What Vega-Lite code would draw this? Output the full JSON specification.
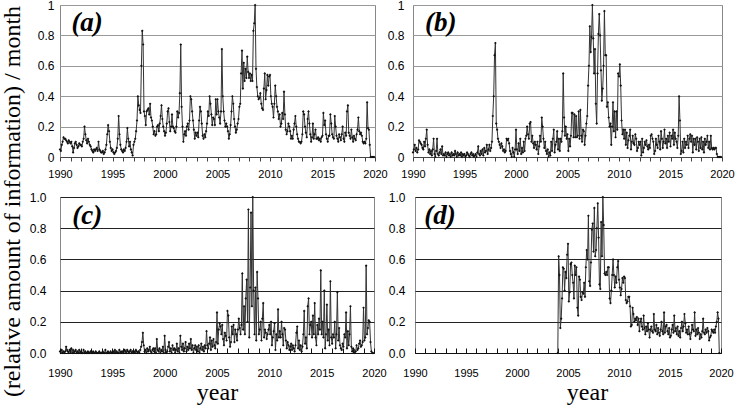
{
  "$schema": "https://vega.github.io/schema/vega-lite/v6.json",
  "padding": {"left": 0, "top": -2, "right": 0, "bottom": 0},
  "background": "#ffffff",
  "config": {
    "view": {"stroke": "#888888", "strokeWidth": 1},
    "axis": {"labelFont": "Liberation Sans", "labelColor": "#000000", "labelOverlap": false, "labelFlush": false}
  },
  "title": {
    "text": "(relative amount of information) / month",
    "orient": "left",
    "anchor": "middle",
    "font": "Liberation Serif",
    "fontSize": 24,
    "fontWeight": "normal",
    "color": "#000000",
    "offset": 4
  },
  "datasets": {
    "panelLetters": [{"panel": "a", "lab": "(a)"}, {"panel": "b", "lab": "(b)"}, {"panel": "c", "lab": "(c)"}, {"panel": "d", "lab": "(d)"}]
  },
  "data": {
    "values": [
      {"m":0,"a":0.05,"b":0.03,"c":0.01},{"m":1,"a":0.04,"b":0.05,"c":0},{"m":2,"a":0.08,"b":0.08,"c":0.02},{"m":3,"a":0.1,"b":0.04,"c":0},{"m":4,"a":0.13,"b":0.06,"c":0.01},{"m":5,"a":0.12,"b":0.03,"c":0},{"m":6,"a":0.12,"b":0.05,"c":0.01},{"m":7,"a":0.11,"b":0.11,"c":0.04},{"m":8,"a":0.1,"b":0.1,"c":0.02},{"m":9,"a":0.09,"b":0.09,"c":0.01},{"m":10,"a":0.11,"b":0.08,"c":0},{"m":11,"a":0.1,"b":0.06,"c":0.02},
      {"m":12,"a":0.09,"b":0.05,"c":0.01},{"m":13,"a":0.1,"b":0.1,"c":0.03},{"m":14,"a":0.07,"b":0.07,"c":0},{"m":15,"a":0.03,"b":0.12,"c":0.02},{"m":16,"a":0.06,"b":0.18,"c":0},{"m":17,"a":0.09,"b":0.08,"c":0.01},{"m":18,"a":0.1,"b":0.03,"c":0.02},{"m":19,"a":0.08,"b":0.05,"c":0},{"m":20,"a":0.06,"b":0.02,"c":0.01},{"m":21,"a":0.07,"b":0.04,"c":0},{"m":22,"a":0.09,"b":0.01,"c":0.02},{"m":23,"a":0.08,"b":0.05,"c":0},
      {"m":24,"a":0.08,"b":0.12,"c":0.01},{"m":25,"a":0.07,"b":0.02,"c":0},{"m":26,"a":0.1,"b":0,"c":0},{"m":27,"a":0.12,"b":0.04,"c":0.02},{"m":28,"a":0.2,"b":0.12,"c":0},{"m":29,"a":0.15,"b":0.02,"c":0.01},{"m":30,"a":0.11,"b":0.01,"c":0},{"m":31,"a":0.09,"b":0.03,"c":0},{"m":32,"a":0.12,"b":0.05,"c":0.01},{"m":33,"a":0.1,"b":0.02,"c":0},{"m":34,"a":0.08,"b":0.07,"c":0},{"m":35,"a":0.07,"b":0.01,"c":0.01},
      {"m":36,"a":0.05,"b":0.02,"c":0},{"m":37,"a":0.04,"b":0.01,"c":0},{"m":38,"a":0.03,"b":0.03,"c":0.01},{"m":39,"a":0.05,"b":0,"c":0},{"m":40,"a":0.04,"b":0.02,"c":0},{"m":41,"a":0.05,"b":0.03,"c":0.01},{"m":42,"a":0.06,"b":0.01,"c":0},{"m":43,"a":0.04,"b":0.02,"c":0},{"m":44,"a":0.1,"b":0,"c":0},{"m":45,"a":0.05,"b":0.03,"c":0.01},{"m":46,"a":0.04,"b":0.01,"c":0},{"m":47,"a":0.03,"b":0.02,"c":0},
      {"m":48,"a":0.03,"b":0.01,"c":0},{"m":49,"a":0.04,"b":0.04,"c":0.01},{"m":50,"a":0.02,"b":0.02,"c":0},{"m":51,"a":0.03,"b":0,"c":0},{"m":52,"a":0.05,"b":0.03,"c":0.02},{"m":53,"a":0.08,"b":0.01,"c":0},{"m":54,"a":0.15,"b":0.02,"c":0},{"m":55,"a":0.21,"b":0.01,"c":0.01},{"m":56,"a":0.17,"b":0.03,"c":0},{"m":57,"a":0.1,"b":0,"c":0},{"m":58,"a":0.06,"b":0.02,"c":0.01},{"m":59,"a":0.04,"b":0.01,"c":0},
      {"m":60,"a":0.05,"b":0.02,"c":0},{"m":61,"a":0.03,"b":0,"c":0.01},{"m":62,"a":0.02,"b":0.01,"c":0},{"m":63,"a":0.03,"b":0.03,"c":0.02},{"m":64,"a":0.04,"b":0.02,"c":0},{"m":65,"a":0.06,"b":0.01,"c":0.01},{"m":66,"a":0.12,"b":0,"c":0},{"m":67,"a":0.27,"b":0.02,"c":0},{"m":68,"a":0.15,"b":0.03,"c":0.02},{"m":69,"a":0.08,"b":0.01,"c":0},{"m":70,"a":0.05,"b":0.02,"c":0.01},{"m":71,"a":0.04,"b":0,"c":0},
      {"m":72,"a":0.03,"b":0.01,"c":0.01},{"m":73,"a":0.05,"b":0.02,"c":0},{"m":74,"a":0.04,"b":0,"c":0.02},{"m":75,"a":0.06,"b":0.03,"c":0.01},{"m":76,"a":0.1,"b":0.07,"c":0},{"m":77,"a":0.19,"b":0.02,"c":0.02},{"m":78,"a":0.12,"b":0.01,"c":0.01},{"m":79,"a":0.07,"b":0.04,"c":0},{"m":80,"a":0.1,"b":0.02,"c":0.01},{"m":81,"a":0.05,"b":0.05,"c":0.02},{"m":82,"a":0.03,"b":0.01,"c":0},{"m":83,"a":0.01,"b":0.06,"c":0.01},
      {"m":84,"a":0.08,"b":0.03,"c":0},{"m":85,"a":0.1,"b":0.04,"c":0.01},{"m":86,"a":0.12,"b":0.08,"c":0},{"m":87,"a":0.17,"b":0.02,"c":0.02},{"m":88,"a":0.24,"b":0.05,"c":0.01},{"m":89,"a":0.4,"b":0.08,"c":0},{"m":90,"a":0.34,"b":0.04,"c":0.01},{"m":91,"a":0.31,"b":0.06,"c":0},{"m":92,"a":0.29,"b":0.1,"c":0.02},{"m":93,"a":0.6,"b":0.27,"c":0.04},{"m":94,"a":0.83,"b":0.4,"c":0.07},{"m":95,"a":0.74,"b":0.67,"c":0.13},
      {"m":96,"a":0.3,"b":0.75,"c":0.05},{"m":97,"a":0.27,"b":0.22,"c":0.01},{"m":98,"a":0.21,"b":0.18,"c":0.02},{"m":99,"a":0.3,"b":0.12,"c":0},{"m":100,"a":0.31,"b":0.1,"c":0.03},{"m":101,"a":0.32,"b":0.08,"c":0.01},{"m":102,"a":0.28,"b":0.06,"c":0.02},{"m":103,"a":0.35,"b":0.09,"c":0.04},{"m":104,"a":0.26,"b":0.07,"c":0.01},{"m":105,"a":0.24,"b":0.04,"c":0},{"m":106,"a":0.2,"b":0.05,"c":0.02},{"m":107,"a":0.15,"b":0.03,"c":0.03},
      {"m":108,"a":0.17,"b":0.04,"c":0.01},{"m":109,"a":0.14,"b":0.12,"c":0.03},{"m":110,"a":0.15,"b":0.11,"c":0},{"m":111,"a":0.2,"b":0.12,"c":0.09},{"m":112,"a":0.21,"b":0.09,"c":0.02},{"m":113,"a":0.17,"b":0.04,"c":0.01},{"m":114,"a":0.22,"b":0.02,"c":0.03},{"m":115,"a":0.27,"b":0,"c":0},{"m":116,"a":0.34,"b":0.06,"c":0.02},{"m":117,"a":0.25,"b":0.03,"c":0.01},{"m":118,"a":0.2,"b":0,"c":0.04},{"m":119,"a":0.17,"b":0.05,"c":0},
      {"m":120,"a":0.14,"b":0.18,"c":0.11},{"m":121,"a":0.16,"b":0.05,"c":0.02},{"m":122,"a":0.22,"b":0.02,"c":0},{"m":123,"a":0.3,"b":0.09,"c":0.01},{"m":124,"a":0.32,"b":0.04,"c":0.04},{"m":125,"a":0.23,"b":0.12,"c":0.07},{"m":126,"a":0.17,"b":0.02,"c":0.01},{"m":127,"a":0.2,"b":0.06,"c":0.03},{"m":128,"a":0.28,"b":0.03,"c":0},{"m":129,"a":0.2,"b":0.1,"c":0.05},{"m":130,"a":0.19,"b":0.04,"c":0.02},{"m":131,"a":0.17,"b":0.12,"c":0.03},
      {"m":132,"a":0.16,"b":0.14,"c":0},{"m":133,"a":0.2,"b":0.2,"c":0.02},{"m":134,"a":0.3,"b":0.15,"c":0.06},{"m":135,"a":0.26,"b":0.12,"c":0.01},{"m":136,"a":0.29,"b":0.22,"c":0.03},{"m":137,"a":0.42,"b":0.23,"c":0},{"m":138,"a":0.74,"b":0.1,"c":0.11},{"m":139,"a":0.33,"b":0.14,"c":0.04},{"m":140,"a":0.2,"b":0.09,"c":0.02},{"m":141,"a":0.1,"b":0.06,"c":0.06},{"m":142,"a":0.15,"b":0.1,"c":0.01},{"m":143,"a":0.17,"b":0.08,"c":0.03},
      {"m":144,"a":0.14,"b":0.05,"c":0.07},{"m":145,"a":0.2,"b":0.1,"c":0.01},{"m":146,"a":0.22,"b":0.02,"c":0.04},{"m":147,"a":0.18,"b":0.07,"c":0.02},{"m":148,"a":0.24,"b":0.14,"c":0.06},{"m":149,"a":0.4,"b":0.1,"c":0.03},{"m":150,"a":0.38,"b":0.26,"c":0.09},{"m":151,"a":0.3,"b":0.2,"c":0.02},{"m":152,"a":0.24,"b":0.12,"c":0.05},{"m":153,"a":0.18,"b":0.06,"c":0},{"m":154,"a":0.12,"b":0.1,"c":0.03},{"m":155,"a":0.16,"b":0.04,"c":0.05},
      {"m":156,"a":0.14,"b":0.02,"c":0.02},{"m":157,"a":0.16,"b":0.05,"c":0.04},{"m":158,"a":0.13,"b":0,"c":0.01},{"m":159,"a":0.24,"b":0.03,"c":0.05},{"m":160,"a":0.33,"b":0.01,"c":0},{"m":161,"a":0.3,"b":0.1,"c":0.03},{"m":162,"a":0.22,"b":0.04,"c":0.06},{"m":163,"a":0.14,"b":0.12,"c":0.02},{"m":164,"a":0.12,"b":0.18,"c":0.04},{"m":165,"a":0.15,"b":0.03,"c":0.01},{"m":166,"a":0.13,"b":0.08,"c":0.05},{"m":167,"a":0.17,"b":0.1,"c":0.03},
      {"m":168,"a":0.22,"b":0.17,"c":0.14,"d":0},{"m":169,"a":0.3,"b":0.05,"c":0.05,"d":0.62},{"m":170,"a":0.27,"b":0.12,"c":0.03,"d":0.5},{"m":171,"a":0.4,"b":0.04,"c":0.06,"d":0.16},{"m":172,"a":0.35,"b":0.12,"c":0.1,"d":0.22},{"m":173,"a":0.28,"b":0.1,"c":0.02,"d":0.35},{"m":174,"a":0.21,"b":0.17,"c":0.08,"d":0.55},{"m":175,"a":0.26,"b":0.55,"c":0.04,"d":0.54},{"m":176,"a":0.25,"b":0.26,"c":0.09,"d":0.4},{"m":177,"a":0.21,"b":0.14,"c":0.05,"d":0.52},{"m":178,"a":0.38,"b":0.2,"c":0.03,"d":0.48},{"m":179,"a":0.28,"b":0.12,"c":0.07,"d":0.63},
      {"m":180,"a":0.38,"b":0.15,"c":0.26,"d":0.7},{"m":181,"a":0.3,"b":0.04,"c":0.06,"d":0.33},{"m":182,"a":0.26,"b":0.12,"c":0.15,"d":0.39},{"m":183,"a":0.22,"b":0.07,"c":0.19,"d":0.57},{"m":184,"a":0.3,"b":0.14,"c":0.17,"d":0.58},{"m":185,"a":0.71,"b":0.29,"c":0.12,"d":0.5},{"m":186,"a":0.4,"b":0.29,"c":0.18,"d":0.45},{"m":187,"a":0.3,"b":0.13,"c":0.09,"d":0.35},{"m":188,"a":0.24,"b":0.28,"c":0.05,"d":0.56},{"m":189,"a":0.2,"b":0.13,"c":0.13,"d":0.5},{"m":190,"a":0.22,"b":0.27,"c":0.11,"d":0.55},{"m":191,"a":0.2,"b":0.13,"c":0.08,"d":0.29},
      {"m":192,"a":0.17,"b":0.14,"c":0.27,"d":0.24},{"m":193,"a":0.12,"b":0.3,"c":0.24,"d":0.49},{"m":194,"a":0.15,"b":0.12,"c":0.1,"d":0.47},{"m":195,"a":0.21,"b":0.31,"c":0.04,"d":0.36},{"m":196,"a":0.3,"b":0.14,"c":0.07,"d":0.34},{"m":197,"a":0.4,"b":0.1,"c":0.17,"d":0.39},{"m":198,"a":0.35,"b":0.18,"c":0.12,"d":0.38},{"m":199,"a":0.25,"b":0.17,"c":0.18,"d":0.45},{"m":200,"a":0.2,"b":0.08,"c":0.07,"d":0.36},{"m":201,"a":0.16,"b":0.14,"c":0.15,"d":0.55},{"m":202,"a":0.18,"b":0.22,"c":0.12,"d":0.66},{"m":203,"a":0.22,"b":0.27,"c":0.08,"d":0.6},
      {"m":204,"a":0.25,"b":0.47,"c":0.15,"d":0.88},{"m":205,"a":0.33,"b":0.6,"c":0.22,"d":0.46},{"m":206,"a":0.35,"b":0.86,"c":0.16,"d":0.43},{"m":207,"a":0.55,"b":0.69,"c":0.12,"d":0.58},{"m":208,"a":0.7,"b":0.79,"c":0.18,"d":0.79},{"m":209,"a":0.45,"b":1,"c":0.51,"d":0.83},{"m":210,"a":0.62,"b":0.78,"c":0.15,"d":0.65},{"m":211,"a":0.5,"b":0.55,"c":0.3,"d":0.93},{"m":212,"a":0.58,"b":0.71,"c":0.12,"d":0.62},{"m":213,"a":0.52,"b":0.35,"c":0.35,"d":0.66},{"m":214,"a":0.66,"b":0.22,"c":0.47,"d":0.8},{"m":215,"a":0.56,"b":0.55,"c":0.2,"d":0.96},
      {"m":216,"a":0.52,"b":0.81,"c":0.92,"d":0.74},{"m":217,"a":0.55,"b":0.94,"c":0.1,"d":0.44},{"m":218,"a":0.5,"b":0.8,"c":0.42,"d":0.41},{"m":219,"a":0.54,"b":0.57,"c":0.9,"d":0.84},{"m":220,"a":0.5,"b":0.37,"c":0.3,"d":0.62},{"m":221,"a":0.83,"b":0.45,"c":1,"d":1},{"m":222,"a":0.88,"b":0.6,"c":0.4,"d":0.82},{"m":223,"a":1,"b":0.96,"c":0.12,"d":0.51},{"m":224,"a":0.58,"b":0.67,"c":0.42,"d":0.5},{"m":225,"a":0.46,"b":0.67,"c":0.08,"d":0.52},{"m":226,"a":0.4,"b":0.33,"c":0.52,"d":0.5},{"m":227,"a":0.38,"b":0.36,"c":0.35,"d":0.55},
      {"m":228,"a":0.39,"b":0.26,"c":0.12,"d":0.55},{"m":229,"a":0.42,"b":0.2,"c":0.15,"d":0.35},{"m":230,"a":0.35,"b":0.22,"c":0.2,"d":0.32},{"m":231,"a":0.32,"b":0.08,"c":0.08,"d":0.4},{"m":232,"a":0.31,"b":0.2,"c":0.22,"d":0.5},{"m":233,"a":0.45,"b":0.36,"c":0.32,"d":0.6},{"m":234,"a":0.55,"b":0.17,"c":0.1,"d":0.5},{"m":235,"a":0.38,"b":0.3,"c":0.15,"d":0.42},{"m":236,"a":0.44,"b":0.13,"c":0.13,"d":0.49},{"m":237,"a":0.54,"b":0.3,"c":0.09,"d":0.45},{"m":238,"a":0.47,"b":0.18,"c":0.12,"d":0.55},{"m":239,"a":0.53,"b":0.55,"c":0.15,"d":0.59},
      {"m":240,"a":0.54,"b":0.53,"c":0.18,"d":0.47},{"m":241,"a":0.4,"b":0.61,"c":0.12,"d":0.42},{"m":242,"a":0.35,"b":0.47,"c":0.2,"d":0.37},{"m":243,"a":0.33,"b":0.24,"c":0.05,"d":0.41},{"m":244,"a":0.26,"b":0.15,"c":0.1,"d":0.48},{"m":245,"a":0.35,"b":0.18,"c":0.14,"d":0.45},{"m":246,"a":0.47,"b":0.12,"c":0.19,"d":0.49},{"m":247,"a":0.4,"b":0.18,"c":0.02,"d":0.48},{"m":248,"a":0.33,"b":0.08,"c":0.12,"d":0.34},{"m":249,"a":0.3,"b":0.16,"c":0.08,"d":0.32},{"m":250,"a":0.25,"b":0.06,"c":0.28,"d":0.33},{"m":251,"a":0.28,"b":0.11,"c":0.1,"d":0.36},
      {"m":252,"a":0.2,"b":0.14,"c":0.14,"d":0.36},{"m":253,"a":0.22,"b":0.18,"c":0.1,"d":0.3},{"m":254,"a":0.29,"b":0.05,"c":0.2,"d":0.17},{"m":255,"a":0.25,"b":0.1,"c":0.12,"d":0.18},{"m":256,"a":0.43,"b":0.14,"c":0.05,"d":0.29},{"m":257,"a":0.28,"b":0.09,"c":0.16,"d":0.25},{"m":258,"a":0.18,"b":0.08,"c":0.15,"d":0.2},{"m":259,"a":0.15,"b":0.15,"c":0.08,"d":0.22},{"m":260,"a":0.17,"b":0.12,"c":0.03,"d":0.21},{"m":261,"a":0.22,"b":0.04,"c":0.07,"d":0.23},{"m":262,"a":0.2,"b":0.06,"c":0.05,"d":0.18},{"m":263,"a":0.17,"b":0.1,"c":0.02,"d":0.22},
      {"m":264,"a":0.12,"b":0.08,"c":0.04,"d":0.14},{"m":265,"a":0.14,"b":0.1,"c":0.06,"d":0.2},{"m":266,"a":0.12,"b":0.01,"c":0.02,"d":0.22},{"m":267,"a":0.18,"b":0.12,"c":0.05,"d":0.17},{"m":268,"a":0.22,"b":0.03,"c":0.03,"d":0.15},{"m":269,"a":0.27,"b":0.06,"c":0.01,"d":0.24},{"m":270,"a":0.2,"b":0.1,"c":0.05,"d":0.16},{"m":271,"a":0.15,"b":0.08,"c":0.13,"d":0.12},{"m":272,"a":0.12,"b":0.11,"c":0.17,"d":0.17},{"m":273,"a":0.1,"b":0.07,"c":0.03,"d":0.14},{"m":274,"a":0.1,"b":0.05,"c":0.08,"d":0.19},{"m":275,"a":0.09,"b":0.08,"c":0.02,"d":0.15},
      {"m":276,"a":0.1,"b":0.06,"c":0.05,"d":0.1},{"m":277,"a":0.15,"b":0.14,"c":0.01,"d":0.15},{"m":278,"a":0.3,"b":0.15,"c":0.04,"d":0.17},{"m":279,"a":0.28,"b":0.12,"c":0.12,"d":0.14},{"m":280,"a":0.2,"b":0.1,"c":0.27,"d":0.13},{"m":281,"a":0.16,"b":0.02,"c":0.06,"d":0.25},{"m":282,"a":0.13,"b":0.04,"c":0.1,"d":0.15},{"m":283,"a":0.25,"b":0.12,"c":0.03,"d":0.14},{"m":284,"a":0.3,"b":0.08,"c":0.3,"d":0.18},{"m":285,"a":0.22,"b":0.06,"c":0.35,"d":0.12},{"m":286,"a":0.15,"b":0.14,"c":0.12,"d":0.16},{"m":287,"a":0.1,"b":0.1,"c":0.18,"d":0.13},
      {"m":288,"a":0.13,"b":0.05,"c":0.2,"d":0.11},{"m":289,"a":0.22,"b":0.17,"c":0.1,"d":0.15},{"m":290,"a":0.12,"b":0.12,"c":0.24,"d":0.2},{"m":291,"a":0.15,"b":0.06,"c":0.12,"d":0.14},{"m":292,"a":0.18,"b":0.1,"c":0.32,"d":0.12},{"m":293,"a":0.12,"b":0.18,"c":0.1,"d":0.26},{"m":294,"a":0.12,"b":0.09,"c":0.05,"d":0.13},{"m":295,"a":0.13,"b":0.12,"c":0.18,"d":0.17},{"m":296,"a":0.11,"b":0.06,"c":0.12,"d":0.18},{"m":297,"a":0.12,"b":0.14,"c":0.22,"d":0.14},{"m":298,"a":0.1,"b":0.1,"c":0.15,"d":0.12},{"m":299,"a":0.13,"b":0.16,"c":0.53,"d":0.16},
      {"m":300,"a":0.14,"b":0.07,"c":0.12,"d":0.1},{"m":301,"a":0.29,"b":0.14,"c":0.2,"d":0.11},{"m":302,"a":0.21,"b":0.12,"c":0.1,"d":0.15},{"m":303,"a":0.24,"b":0.18,"c":0.4,"d":0.18},{"m":304,"a":0.15,"b":0.08,"c":0.03,"d":0.13},{"m":305,"a":0.12,"b":0.16,"c":0.12,"d":0.24},{"m":306,"a":0.1,"b":0.12,"c":0.31,"d":0.14},{"m":307,"a":0.14,"b":0.1,"c":0.08,"d":0.16},{"m":308,"a":0.14,"b":0.06,"c":0.15,"d":0.12},{"m":309,"a":0.28,"b":0.14,"c":0.05,"d":0.17},{"m":310,"a":0.22,"b":0.4,"c":0.46,"d":0.11},{"m":311,"a":0.15,"b":0.24,"c":0.1,"d":0.14},
      {"m":312,"a":0.13,"b":0.02,"c":0.06,"d":0.1},{"m":313,"a":0.12,"b":0.04,"c":0.12,"d":0.16},{"m":314,"a":0.27,"b":0.1,"c":0.1,"d":0.2},{"m":315,"a":0.2,"b":0.03,"c":0.2,"d":0.14},{"m":316,"a":0.14,"b":0.12,"c":0.03,"d":0.17},{"m":317,"a":0.12,"b":0.06,"c":0.12,"d":0.25},{"m":318,"a":0.1,"b":0.1,"c":0.39,"d":0.19},{"m":319,"a":0.15,"b":0.08,"c":0.08,"d":0.13},{"m":320,"a":0.13,"b":0.14,"c":0.16,"d":0.15},{"m":321,"a":0.11,"b":0.06,"c":0.05,"d":0.12},{"m":322,"a":0.15,"b":0.12,"c":0.03,"d":0.17},{"m":323,"a":0.2,"b":0.15,"c":0.02,"d":0.12},
      {"m":324,"a":0.12,"b":0.1,"c":0.06,"d":0.09},{"m":325,"a":0.1,"b":0.14,"c":0.04,"d":0.13},{"m":326,"a":0.16,"b":0.03,"c":0.12,"d":0.18},{"m":327,"a":0.14,"b":0.12,"c":0.1,"d":0.15},{"m":328,"a":0.3,"b":0.08,"c":0.26,"d":0.14},{"m":329,"a":0.34,"b":0.12,"c":0.03,"d":0.26},{"m":330,"a":0.16,"b":0.05,"c":0.14,"d":0.11},{"m":331,"a":0.14,"b":0.13,"c":0.05,"d":0.15},{"m":332,"a":0.12,"b":0.1,"c":0.12,"d":0.12},{"m":333,"a":0.18,"b":0.04,"c":0.3,"d":0.16},{"m":334,"a":0.13,"b":0.12,"c":0.04,"d":0.13},{"m":335,"a":0.1,"b":0.06,"c":0.01,"d":0.09},
      {"m":336,"a":0.14,"b":0.13,"c":0.03,"d":0.12},{"m":337,"a":0.12,"b":0.05,"c":0.02,"d":0.1},{"m":338,"a":0.11,"b":0.1,"c":0,"d":0.14},{"m":339,"a":0.15,"b":0.03,"c":0.01,"d":0.22},{"m":340,"a":0.18,"b":0.12,"c":0.05,"d":0.13},{"m":341,"a":0.26,"b":0.08,"c":0.02,"d":0.12},{"m":342,"a":0.17,"b":0.1,"c":0.03,"d":0.15},{"m":343,"a":0.15,"b":0.14,"c":0.06,"d":0.13},{"m":344,"a":0.16,"b":0.06,"c":0.08,"d":0.16},{"m":345,"a":0.14,"b":0.1,"c":0.04,"d":0.14},{"m":346,"a":0.1,"b":0.05,"c":0.05,"d":0.08},{"m":347,"a":0.09,"b":0.14,"c":0.07,"d":0.1},
      {"m":348,"a":0.1,"b":0.06,"c":0.29,"d":0.11},{"m":349,"a":0.09,"b":0.05,"c":0.08,"d":0.15},{"m":350,"a":0.12,"b":0.06,"c":0.1,"d":0.14},{"m":351,"a":0.36,"b":0.05,"c":0.56,"d":0.13},{"m":352,"a":0.19,"b":0.06,"c":0.12,"d":0.15},{"m":353,"a":0.18,"b":0.06,"c":0.16,"d":0.13},{"m":354,"a":0.08,"b":0.02,"c":0.21,"d":0.17},{"m":355,"a":0,"b":0,"c":0.2,"d":0.2},{"m":356,"a":0,"b":0,"c":0.07,"d":0.26},{"m":357,"a":0,"b":0,"c":0.01,"d":0.22},{"m":358,"a":0,"b":0,"c":0,"d":0},{"m":359,"a":0,"b":0,"c":0}
    ]
  },
  "spacing": 10,
  "vconcat": [
    {
      "bounds": "flush",
      "spacing": 38,
      "hconcat": [
        {
          "width": 315,
          "height": 152,
          "layer": [
            {"mark": {"type": "line", "color": "#333333", "strokeWidth": 1},
              "encoding": {
                "x": {"field": "m", "type": "quantitative", "scale": {"domain": [0, 360], "nice": false, "zero": false},
                  "axis": {"title": null, "grid": false, "values": [0,12,24,36,48,60,72,84,96,108,120,132,144,156,168,180,192,204,216,228,240,252,264,276,288,300,312,324,336,348,360],
                    "labelExpr": "datum.value % 60 === 0 ? '' + (1990 + datum.value / 12) : ''", "tickSize": 4, "tickColor": "#444444", "domainColor": "#444444", "labelPadding": 7, "labelFontSize": 11}},
                "y": {"field": "a", "type": "quantitative", "scale": {"domain": [0, 1], "nice": false},
                  "axis": {"title": null, "values": [0,0.2,0.4,0.6,0.8,1], "format": "~g", "grid": true, "gridColor": "#999999", "ticks": false, "domain": false, "labelPadding": 6, "labelFontSize": 12}}}},
            {"mark": {"type": "point", "shape": "diamond", "filled": true, "size": 7, "color": "#111111", "opacity": 1},
              "encoding": {
                "x": {"field": "m", "type": "quantitative", "scale": {"domain": [0, 360], "nice": false, "zero": false},
                  "axis": {"title": null, "grid": false, "values": [0,12,24,36,48,60,72,84,96,108,120,132,144,156,168,180,192,204,216,228,240,252,264,276,288,300,312,324,336,348,360],
                    "labelExpr": "datum.value % 60 === 0 ? '' + (1990 + datum.value / 12) : ''", "tickSize": 4, "tickColor": "#444444", "domainColor": "#444444", "labelPadding": 7, "labelFontSize": 11}},
                "y": {"field": "a", "type": "quantitative", "scale": {"domain": [0, 1], "nice": false},
                  "axis": {"title": null, "values": [0,0.2,0.4,0.6,0.8,1], "format": "~g", "grid": true, "gridColor": "#999999", "ticks": false, "domain": false, "labelPadding": 6, "labelFontSize": 12}}}},
            {"data": {"name": "panelLetters"},
              "transform": [{"filter": "datum.panel === 'a'"}],
              "mark": {"type": "text", "align": "left", "baseline": "alphabetic", "font": "Liberation Serif", "fontSize": 27, "fontStyle": "italic", "fontWeight": "bold", "color": "#000000"},
              "encoding": {
                "x": {"datum": 13, "type": "quantitative", "scale": {"domain": [0, 360], "nice": false, "zero": false},
                  "axis": {"title": null, "grid": false, "values": [0,12,24,36,48,60,72,84,96,108,120,132,144,156,168,180,192,204,216,228,240,252,264,276,288,300,312,324,336,348,360],
                    "labelExpr": "datum.value % 60 === 0 ? '' + (1990 + datum.value / 12) : ''", "tickSize": 4, "tickColor": "#444444", "domainColor": "#444444", "labelPadding": 7, "labelFontSize": 11}},
                "y": {"datum": 0.83, "type": "quantitative", "scale": {"domain": [0, 1], "nice": false},
                  "axis": {"title": null, "values": [0,0.2,0.4,0.6,0.8,1], "format": "~g", "grid": true, "gridColor": "#999999", "ticks": false, "domain": false, "labelPadding": 6, "labelFontSize": 12}},
                "text": {"field": "lab", "type": "nominal"}}}
          ]
        },
        {
          "width": 309,
          "height": 152,
          "layer": [
            {"mark": {"type": "line", "color": "#333333", "strokeWidth": 1},
              "encoding": {
                "x": {"field": "m", "type": "quantitative", "scale": {"domain": [0, 360], "nice": false, "zero": false},
                  "axis": {"title": null, "grid": false, "values": [0,12,24,36,48,60,72,84,96,108,120,132,144,156,168,180,192,204,216,228,240,252,264,276,288,300,312,324,336,348,360],
                    "labelExpr": "datum.value % 60 === 0 ? '' + (1990 + datum.value / 12) : ''", "tickSize": 4, "tickColor": "#444444", "domainColor": "#444444", "labelPadding": 7, "labelFontSize": 11}},
                "y": {"field": "b", "type": "quantitative", "scale": {"domain": [0, 1], "nice": false},
                  "axis": {"title": null, "values": [0,0.2,0.4,0.6,0.8,1], "format": "~g", "grid": true, "gridColor": "#999999", "ticks": false, "domain": false, "labelPadding": 9, "labelFontSize": 12}}}},
            {"mark": {"type": "point", "shape": "diamond", "filled": true, "size": 7, "color": "#111111", "opacity": 1},
              "encoding": {
                "x": {"field": "m", "type": "quantitative", "scale": {"domain": [0, 360], "nice": false, "zero": false},
                  "axis": {"title": null, "grid": false, "values": [0,12,24,36,48,60,72,84,96,108,120,132,144,156,168,180,192,204,216,228,240,252,264,276,288,300,312,324,336,348,360],
                    "labelExpr": "datum.value % 60 === 0 ? '' + (1990 + datum.value / 12) : ''", "tickSize": 4, "tickColor": "#444444", "domainColor": "#444444", "labelPadding": 7, "labelFontSize": 11}},
                "y": {"field": "b", "type": "quantitative", "scale": {"domain": [0, 1], "nice": false},
                  "axis": {"title": null, "values": [0,0.2,0.4,0.6,0.8,1], "format": "~g", "grid": true, "gridColor": "#999999", "ticks": false, "domain": false, "labelPadding": 9, "labelFontSize": 12}}}},
            {"data": {"name": "panelLetters"},
              "transform": [{"filter": "datum.panel === 'b'"}],
              "mark": {"type": "text", "align": "left", "baseline": "alphabetic", "font": "Liberation Serif", "fontSize": 27, "fontStyle": "italic", "fontWeight": "bold", "color": "#000000"},
              "encoding": {
                "x": {"datum": 14, "type": "quantitative", "scale": {"domain": [0, 360], "nice": false, "zero": false},
                  "axis": {"title": null, "grid": false, "values": [0,12,24,36,48,60,72,84,96,108,120,132,144,156,168,180,192,204,216,228,240,252,264,276,288,300,312,324,336,348,360],
                    "labelExpr": "datum.value % 60 === 0 ? '' + (1990 + datum.value / 12) : ''", "tickSize": 4, "tickColor": "#444444", "domainColor": "#444444", "labelPadding": 7, "labelFontSize": 11}},
                "y": {"datum": 0.83, "type": "quantitative", "scale": {"domain": [0, 1], "nice": false},
                  "axis": {"title": null, "values": [0,0.2,0.4,0.6,0.8,1], "format": "~g", "grid": true, "gridColor": "#999999", "ticks": false, "domain": false, "labelPadding": 9, "labelFontSize": 12}},
                "text": {"field": "lab", "type": "nominal"}}}
          ]
        }
      ]
    },
    {
      "bounds": "flush",
      "spacing": 41,
      "hconcat": [
        {
          "width": 314,
          "height": 156,
          "layer": [
            {"mark": {"type": "line", "color": "#333333", "strokeWidth": 1},
              "encoding": {
                "x": {"field": "m", "type": "quantitative", "scale": {"domain": [0, 360], "nice": false, "zero": false},
                  "axis": {"title": "year", "grid": false, "values": [0,12,24,36,48,60,72,84,96,108,120,132,144,156,168,180,192,204,216,228,240,252,264,276,288,300,312,324,336,348,360],
                    "labelExpr": "datum.value % 60 === 0 ? '' + (1990 + datum.value / 12) : ''", "tickSize": -5, "tickColor": "#111111", "domainColor": "#111111", "labelPadding": 19, "labelFontSize": 11,
                    "titleFont": "Liberation Serif", "titleFontSize": 24, "titleFontWeight": "normal", "titleColor": "#000000", "titlePadding": 2}},
                "y": {"field": "c", "type": "quantitative", "scale": {"domain": [0, 1], "nice": false},
                  "axis": {"title": null, "values": [0,0.2,0.4,0.6,0.8,1], "format": ".1f", "grid": true, "gridColor": "#222222", "ticks": false, "domain": false, "labelPadding": 14, "labelFontSize": 12}}}},
            {"mark": {"type": "point", "shape": "diamond", "filled": true, "size": 7, "color": "#111111", "opacity": 1},
              "encoding": {
                "x": {"field": "m", "type": "quantitative", "scale": {"domain": [0, 360], "nice": false, "zero": false},
                  "axis": {"title": "year", "grid": false, "values": [0,12,24,36,48,60,72,84,96,108,120,132,144,156,168,180,192,204,216,228,240,252,264,276,288,300,312,324,336,348,360],
                    "labelExpr": "datum.value % 60 === 0 ? '' + (1990 + datum.value / 12) : ''", "tickSize": -5, "tickColor": "#111111", "domainColor": "#111111", "labelPadding": 19, "labelFontSize": 11,
                    "titleFont": "Liberation Serif", "titleFontSize": 24, "titleFontWeight": "normal", "titleColor": "#000000", "titlePadding": 2}},
                "y": {"field": "c", "type": "quantitative", "scale": {"domain": [0, 1], "nice": false},
                  "axis": {"title": null, "values": [0,0.2,0.4,0.6,0.8,1], "format": ".1f", "grid": true, "gridColor": "#222222", "ticks": false, "domain": false, "labelPadding": 14, "labelFontSize": 12}}}},
            {"data": {"name": "panelLetters"},
              "transform": [{"filter": "datum.panel === 'c'"}],
              "mark": {"type": "text", "align": "left", "baseline": "alphabetic", "font": "Liberation Serif", "fontSize": 27, "fontStyle": "italic", "fontWeight": "bold", "color": "#000000"},
              "encoding": {
                "x": {"datum": 14, "type": "quantitative", "scale": {"domain": [0, 360], "nice": false, "zero": false},
                  "axis": {"title": "year", "grid": false, "values": [0,12,24,36,48,60,72,84,96,108,120,132,144,156,168,180,192,204,216,228,240,252,264,276,288,300,312,324,336,348,360],
                    "labelExpr": "datum.value % 60 === 0 ? '' + (1990 + datum.value / 12) : ''", "tickSize": -5, "tickColor": "#111111", "domainColor": "#111111", "labelPadding": 19, "labelFontSize": 11,
                    "titleFont": "Liberation Serif", "titleFontSize": 24, "titleFontWeight": "normal", "titleColor": "#000000", "titlePadding": 2}},
                "y": {"datum": 0.83, "type": "quantitative", "scale": {"domain": [0, 1], "nice": false},
                  "axis": {"title": null, "values": [0,0.2,0.4,0.6,0.8,1], "format": ".1f", "grid": true, "gridColor": "#222222", "ticks": false, "domain": false, "labelPadding": 14, "labelFontSize": 12}},
                "text": {"field": "lab", "type": "nominal"}}}
          ]
        },
        {
          "width": 306,
          "height": 156,
          "layer": [
            {"mark": {"type": "line", "color": "#333333", "strokeWidth": 1},
              "encoding": {
                "x": {"field": "m", "type": "quantitative", "scale": {"domain": [0, 360], "nice": false, "zero": false},
                  "axis": {"title": "year", "grid": false, "values": [0,12,24,36,48,60,72,84,96,108,120,132,144,156,168,180,192,204,216,228,240,252,264,276,288,300,312,324,336,348,360],
                    "labelExpr": "datum.value % 60 === 0 ? '' + (1990 + datum.value / 12) : ''", "tickSize": -5, "tickColor": "#111111", "domainColor": "#111111", "labelPadding": 19, "labelFontSize": 11,
                    "titleFont": "Liberation Serif", "titleFontSize": 24, "titleFontWeight": "normal", "titleColor": "#000000", "titlePadding": 2, "titleX": 172}},
                "y": {"field": "d", "type": "quantitative", "scale": {"domain": [0, 1], "nice": false},
                  "axis": {"title": null, "values": [0,0.2,0.4,0.6,0.8,1], "format": ".1f", "grid": true, "gridColor": "#222222", "ticks": false, "domain": false, "labelPadding": 10, "labelFontSize": 12}}}},
            {"mark": {"type": "point", "shape": "diamond", "filled": true, "size": 7, "color": "#111111", "opacity": 1},
              "encoding": {
                "x": {"field": "m", "type": "quantitative", "scale": {"domain": [0, 360], "nice": false, "zero": false},
                  "axis": {"title": "year", "grid": false, "values": [0,12,24,36,48,60,72,84,96,108,120,132,144,156,168,180,192,204,216,228,240,252,264,276,288,300,312,324,336,348,360],
                    "labelExpr": "datum.value % 60 === 0 ? '' + (1990 + datum.value / 12) : ''", "tickSize": -5, "tickColor": "#111111", "domainColor": "#111111", "labelPadding": 19, "labelFontSize": 11,
                    "titleFont": "Liberation Serif", "titleFontSize": 24, "titleFontWeight": "normal", "titleColor": "#000000", "titlePadding": 2, "titleX": 172}},
                "y": {"field": "d", "type": "quantitative", "scale": {"domain": [0, 1], "nice": false},
                  "axis": {"title": null, "values": [0,0.2,0.4,0.6,0.8,1], "format": ".1f", "grid": true, "gridColor": "#222222", "ticks": false, "domain": false, "labelPadding": 10, "labelFontSize": 12}}}},
            {"data": {"name": "panelLetters"},
              "transform": [{"filter": "datum.panel === 'd'"}],
              "mark": {"type": "text", "align": "left", "baseline": "alphabetic", "font": "Liberation Serif", "fontSize": 27, "fontStyle": "italic", "fontWeight": "bold", "color": "#000000"},
              "encoding": {
                "x": {"datum": 11, "type": "quantitative", "scale": {"domain": [0, 360], "nice": false, "zero": false},
                  "axis": {"title": "year", "grid": false, "values": [0,12,24,36,48,60,72,84,96,108,120,132,144,156,168,180,192,204,216,228,240,252,264,276,288,300,312,324,336,348,360],
                    "labelExpr": "datum.value % 60 === 0 ? '' + (1990 + datum.value / 12) : ''", "tickSize": -5, "tickColor": "#111111", "domainColor": "#111111", "labelPadding": 19, "labelFontSize": 11,
                    "titleFont": "Liberation Serif", "titleFontSize": 24, "titleFontWeight": "normal", "titleColor": "#000000", "titlePadding": 2, "titleX": 172}},
                "y": {"datum": 0.83, "type": "quantitative", "scale": {"domain": [0, 1], "nice": false},
                  "axis": {"title": null, "values": [0,0.2,0.4,0.6,0.8,1], "format": ".1f", "grid": true, "gridColor": "#222222", "ticks": false, "domain": false, "labelPadding": 10, "labelFontSize": 12}},
                "text": {"field": "lab", "type": "nominal"}}}
          ]
        }
      ]
    }
  ]
}
